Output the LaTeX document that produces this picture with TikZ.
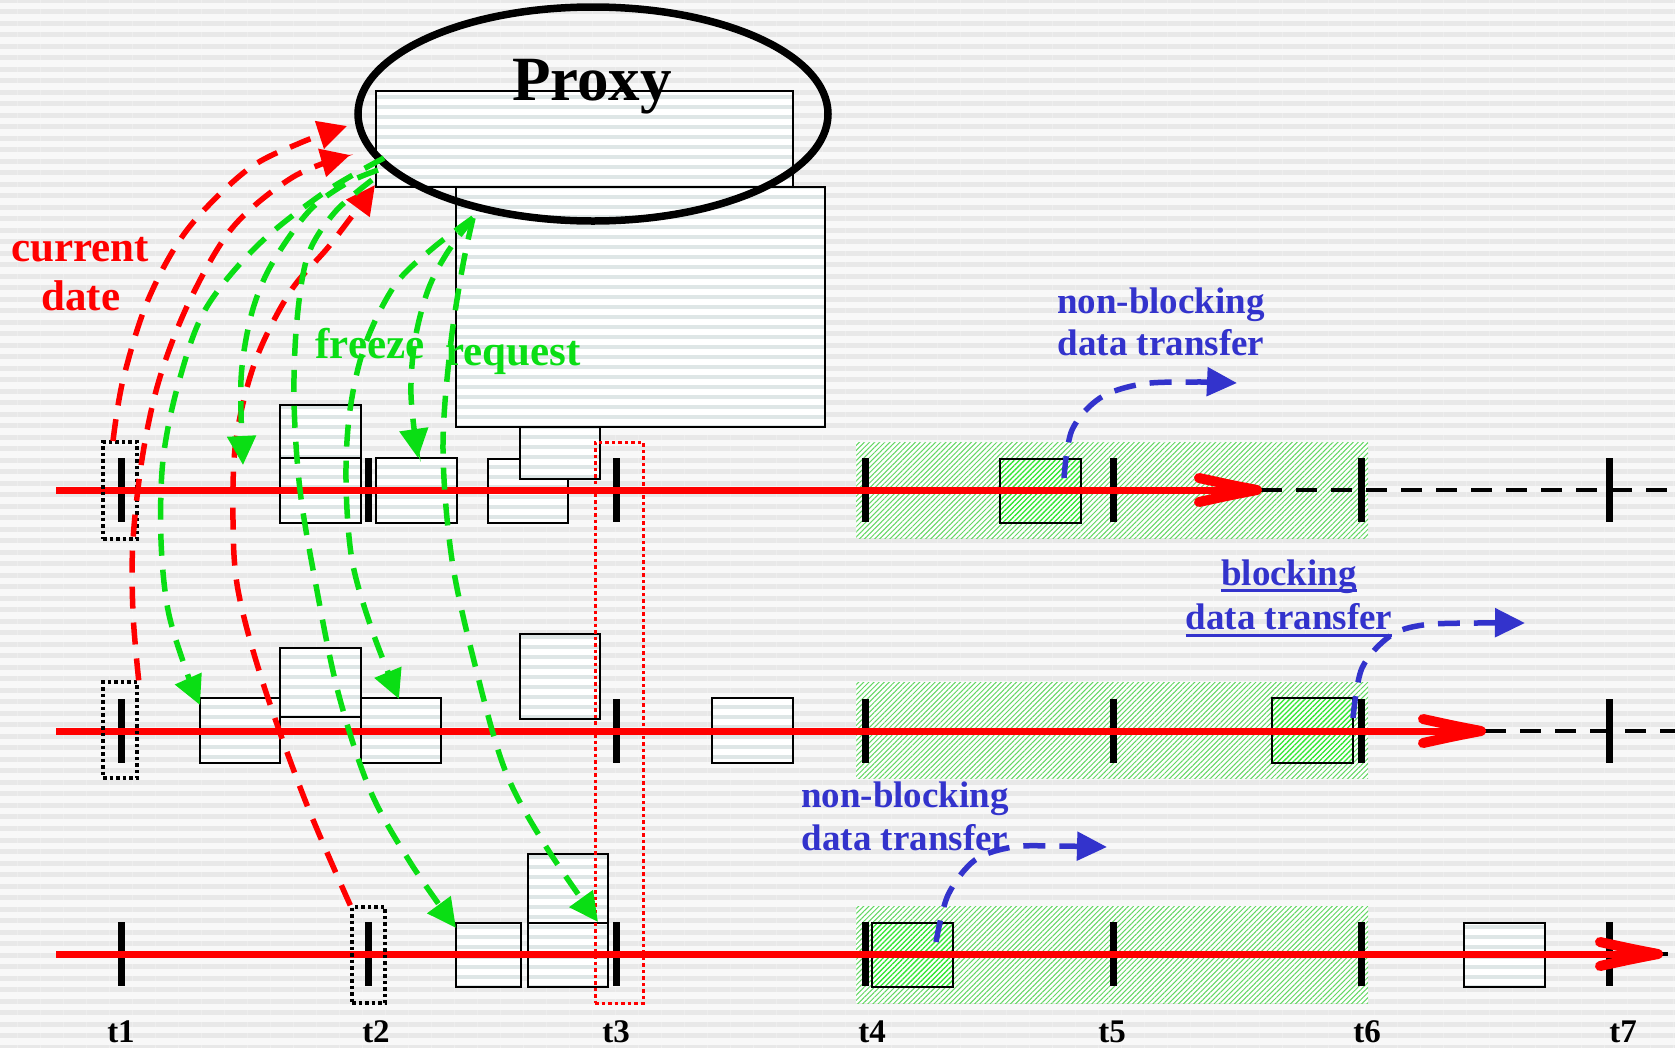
\documentclass[tikz,border=0pt]{standalone}
\usepackage{fontspec}
\setmainfont{Liberation Serif}
\usetikzlibrary{arrows.meta,patterns.meta,shapes.geometric,fit}

\definecolor{tlred}{RGB}{255,0,0}
\definecolor{frzgreen}{RGB}{10,222,20}
\definecolor{xferblue}{RGB}{51,51,204}
\definecolor{bgbase}{RGB}{248,248,248}
\definecolor{bgline}{RGB}{232,232,232}
\definecolor{slotline}{RGB}{222,230,230}
\definecolor{hatchgreen}{RGB}{100,215,100}
\definecolor{busygreen}{RGB}{50,230,50}

\tikzset{
  slot/.style={draw=black, line width=1.6pt, inner sep=0pt,
    preaction={fill=white}, pattern={Lines[distance=10pt,line width=4pt]}, pattern color=slotline},
  busy/.style={draw=black, line width=1.6pt, inner sep=0pt,
    preaction={fill=white}, pattern={Lines[angle=45,distance=3.6pt,line width=1.3pt]}, pattern color=busygreen},
  window/.style={inner sep=0pt, preaction={fill=white},
    pattern={Lines[angle=45,distance=3.6pt,line width=1.0pt]}, pattern color=hatchgreen},
  tickmark/.style={line width=7pt},
  timeline/.style={tlred, line width=7pt},
  chevron/.style={tlred, line width=10pt, line cap=round, line join=round},
  idle/.style={line width=4pt, dash pattern=on 21pt off 14pt},
  probe/.style={draw=black, line width=3.4pt, dash pattern=on 3.5pt off 3pt, inner sep=0pt},
  datearrow/.style={tlred, line width=5.5pt, dash pattern=on 22pt off 14pt,
    -{Triangle[length=29pt,width=28pt]}},
  cmdarrow/.style={frzgreen, line width=5.5pt, dash pattern=on 22pt off 14pt,
    -{Triangle[length=29pt,width=28pt]}},
  xferarrow/.style={xferblue, line width=5.5pt, dash pattern=on 22pt off 14pt,
    -{Triangle[length=30pt,width=28pt]}},
  lbl/.style={anchor=base, inner sep=0pt, font=\bfseries\fontsize{43}{43}\selectfont},
  xferlbl/.style={anchor=base, inner sep=0pt, text=xferblue, font=\bfseries\fontsize{37}{37}\selectfont},
  tlbl/.style={anchor=base, inner sep=0pt, font=\bfseries\fontsize{33}{33}\selectfont},
}

\begin{document}
\begin{tikzpicture}[x=1pt,y=-1pt]
\useasboundingbox (0,0) rectangle (1675,1047);

% striped backdrop
\fill[bgbase] (0,0) rectangle (1675,1047);
\fill[pattern={Lines[distance=11.5pt,line width=5pt]}, pattern color=bgline] (0,0) rectangle (1675,1047);

% busy windows between t4 and t6
\node[window, fit={(856,442) (1368,538)}] (win1) {};
\node[window, fit={(856,682) (1368,778)}] (win2) {};
\node[window, fit={(856,906) (1368,1003)}] (win3) {};

% proxy buffers
\node[slot, fit={(376,91) (793,187)}] (pbuf) {};
\node[slot, fit={(456,187) (825,427)}] (pstore) {};

% slots on timeline 1
\node[slot, fit={(280,405) (361,458)}] (a1) {};
\node[slot, fit={(280,458) (361,523)}] (a2) {};
\node[slot, fit={(376,458) (457,523)}] (b1) {};
\node[slot, fit={(488,459) (568,523)}] (c1) {};
\node[slot, fit={(520,427) (600,479)}] (d1) {};
\node[busy, fit={(1000,459) (1081,523)}] (x1) {};

% slots on timeline 2
\node[slot, fit={(200,698) (280,763)}] (e2) {};
\node[slot, fit={(361,698) (441,763)}] (g2) {};
\node[slot, fit={(280,648) (361,717)}] (f2) {};
\node[slot, fit={(520,634) (600,719)}] (h2) {};
\node[slot, fit={(712,698) (793,763)}] (i2) {};
\node[busy, fit={(1272,698) (1353,763)}] (x2) {};

% slots on timeline 3
\node[slot, fit={(456,923) (521,987)}] (k3) {};
\node[slot, fit={(528,854) (608,923)}] (l3) {};
\node[slot, fit={(528,923) (608,987)}] (m3) {};
\node[busy, fit={(872,923) (953,987)}] (x3) {};
\node[slot, fit={(1464,923) (1545,987)}] (n3) {};

% the proxy
\node[draw, ellipse, line width=7.5pt, minimum width=470pt, minimum height=214pt, inner sep=0pt] (proxy) at (593,114) {};
\node[anchor=base, inner sep=0pt, font=\bfseries\fontsize{63}{63}\selectfont] (proxytxt) at (592,100) {Proxy};

% tick marks
\foreach \x in {121,368,616,865,1113,1361,1609} \draw[tickmark] (\x,458) -- (\x,522);
\foreach \x in {121,616,865,1113,1361,1609} \draw[tickmark] (\x,699) -- (\x,763);
\foreach \x in {121,368,616,865,1113,1361,1609} \draw[tickmark] (\x,922) -- (\x,986);

% timelines
\coordinate (s1) at (56,490);  \coordinate (e1) at (1261,490); \coordinate (r1) at (1675,490);
\coordinate (s2) at (56,731);  \coordinate (e2end) at (1485,731); \coordinate (r2) at (1675,731);
\coordinate (s3) at (56,954);  \coordinate (e3) at (1662,954); \coordinate (r3) at (1668,954);
\draw[idle] (e1) -- (r1);
\draw[idle] (e2end) -- (r2);
\draw[line width=4pt] (e3) -- (r3);
\draw[timeline] (s1) -- ([xshift=-5pt]e1);
\draw[timeline] (s2) -- ([xshift=-5pt]e2end);
\draw[timeline] (s3) -- ([xshift=-5pt]e3);
\foreach \tip in {e1,e2end,e3}
  \draw[chevron] ([shift={(-62,-12)}]\tip) .. controls ([shift={(-30,-5)}]\tip) .. ([xshift=-4pt]\tip)
                 .. controls ([shift={(-30,5)}]\tip) .. ([shift={(-62,12)}]\tip);

% sampled dates
\node[probe, fit={(103,442) (137,539)}] (pa) {};
\node[probe, fit={(103,682) (137,778)}] (pb) {};
\node[probe, fit={(352,907) (385,1003)}] (pc) {};
\node[probe, draw=tlred, line width=3pt, fit={(595,442) (643,1003)}] (cut) {};

% current date sent to the proxy
\coordinate (dA) at (347,126);
\coordinate (dB) at (350,155);
\coordinate (dC) at (375,185);
\draw[datearrow] plot[smooth, tension=0.55] coordinates {(113,441) (123,380) (148,300) (187,230) (247,170) (300,143) (dA)};
\draw[datearrow] plot[smooth, tension=0.55] coordinates {(pb.north east) (133,613) (133,540) (143,453) (160,377) (190,300) (233,227) (293,177) (dB)};
\draw[datearrow] plot[smooth, tension=0.55] coordinates {(pc.north west) (305,800) (262,680) (238,590) (233,520) (236,440) (255,362) (290,292) (330,245) (dC)};

% freeze and request commands from the proxy
\coordinate (fzA) at (384,158);
\coordinate (fzB) at (378,170);
\coordinate (fzC) at (372,180);
\coordinate (rq) at (473,218);
\coordinate (tA) at (200,705);
\coordinate (tB) at (243,465);
\coordinate (tC) at (456,928);
\coordinate (tD) at (399,699);
\coordinate (tG) at (418,458);
\coordinate (tF) at (598,922);
\draw[cmdarrow] plot[smooth, tension=0.55] coordinates {(fzA) (325,192) (258,245) (205,310) (178,385) (163,460) (161,540) (168,610) (186,670) (tA)};
\draw[cmdarrow] plot[smooth, tension=0.55] coordinates {(fzB) (347,183) (313,207) (287,240) (265,277) (250,320) (241,380) (tB)};
\draw[cmdarrow] plot[smooth, tension=0.55] coordinates {(fzC) (335,212) (308,255) (297,320) (294,400) (300,490) (315,580) (338,692) (370,790) (410,862) (tC)};
\draw[cmdarrow] plot[smooth, tension=0.55] coordinates {(rq) (433,248) (395,285) (365,345) (350,410) (346,480) (352,560) (372,630) (tD)};
\draw[cmdarrow] plot[smooth, tension=0.55] coordinates {(rq) (447,253) (428,290) (415,340) (411,395) (tG)};
\draw[cmdarrow] plot[smooth, tension=0.55] coordinates {(rq) (462,270) (450,350) (443,450) (452,560) (475,665) (505,770) (545,845) (tF)};

% data transfers
\coordinate (xA) at (1237,383);
\coordinate (xB) at (1525,623);
\coordinate (xC) at (1107,847);
\draw[xferarrow] plot[smooth, tension=0.55] coordinates {(1064,478) (1072,430) (1100,398) (1142,384) (1196,382) (xA)};
\draw[xferarrow] plot[smooth, tension=0.55] coordinates {(1353,718) (1362,668) (1390,636) (1423,625) (1477,623) (xB)};
\draw[xferarrow] plot[smooth, tension=0.55] coordinates {(936,942) (948,895) (975,860) (1013,847) (1056,846) (xC)};

% labels
\node[lbl, text=tlred] (cur) at (80,261) {current};
\node[lbl, text=tlred] (dat) at (81,310) {date};
\node[lbl, text=frzgreen] (frz) at (370,358) {freeze};
\node[lbl, text=frzgreen] (req) at (513,365) {request};
\node[xferlbl] (nb1) at (1161,313) {non-blocking};
\node[xferlbl] (dt1) at (1161,355) {data transfer};
\node[xferlbl] (bl2) at (1289,585) {blocking};
\node[xferlbl] (dt2) at (1289,629) {data transfer};
\draw[xferblue, line width=3pt] ([yshift=-5pt]bl2.base west) -- ([yshift=-5pt]bl2.base east);
\draw[xferblue, line width=3pt] ([yshift=-6pt]dt2.base west) -- ([yshift=-6pt]dt2.base east);
\node[xferlbl] (nb3) at (905,807) {non-blocking};
\node[xferlbl] (dt3) at (905,850) {data transfer};

\node[tlbl] (t1) at (121,1042) {t1};
\node[tlbl] (t2) at (376,1042) {t2};
\node[tlbl] (t3) at (616,1042) {t3};
\node[tlbl] (t4) at (872,1042) {t4};
\node[tlbl] (t5) at (1112,1042) {t5};
\node[tlbl] (t6) at (1367,1042) {t6};
\node[tlbl] (t7) at (1623,1042) {t7};
\end{tikzpicture}
\end{document}
